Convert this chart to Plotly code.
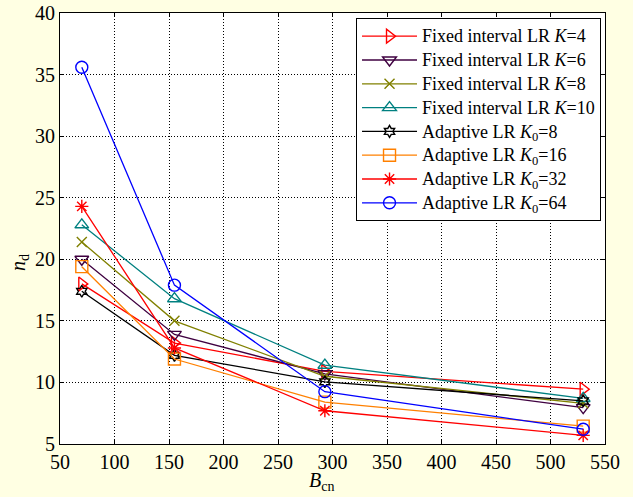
import plotly.graph_objects as go

x_vals = [70, 155, 293, 530]

fixed_k4 = [18.0, 13.2, 10.9, 9.45]
fixed_k6 = [20.0, 13.9, 10.7, 7.95]
fixed_k8 = [21.4, 15.0, 10.5, 8.3]
fixed_k10 = [22.8, 16.8, 11.4, 8.7]
adapt_k8 = [17.4, 12.2, 10.05, 8.5]
adapt_k16 = [19.4, 11.9, 8.4, 6.45]
adapt_k32 = [24.3, 12.8, 7.7, 5.7]
adapt_k64 = [35.6, 17.9, 9.25, 6.2]

names = [
    "Fixed interval LR <i>K</i>=4",
    "Fixed interval LR <i>K</i>=6",
    "Fixed interval LR <i>K</i>=8",
    "Fixed interval LR <i>K</i>=10",
    "Adaptive LR <i>K</i><sub>0</sub>=8",
    "Adaptive LR <i>K</i><sub>0</sub>=16",
    "Adaptive LR <i>K</i><sub>0</sub>=32",
    "Adaptive LR <i>K</i><sub>0</sub>=64",
]
series = [fixed_k4, fixed_k6, fixed_k8, fixed_k10, adapt_k8, adapt_k16, adapt_k32, adapt_k64]
colors = ["#FF0000", "#3F0040", "#808000", "#008080", "#000000", "#FF8000", "#FF0000", "#0000FF"]
symbols = ["triangle-right-open", "triangle-down-open", "x-thin-open", "triangle-up-open",
           "hexagram-open", "square-open", "asterisk-open", "circle-open"]
sizes = [12, 12, 10, 12, 9, 12, 11, 12]

font_family = "Liberation Serif, Times New Roman, serif"

fig = go.Figure()
for n, s, c, m, sz in zip(names, series, colors, symbols, sizes):
    fig.add_trace(go.Scatter(
        x=x_vals, y=s, mode="lines+markers",
        name='<span style="font-size:18px">' + n + "</span>",
        line=dict(color=c, width=1.3),
        marker=dict(symbol=m, size=sz, color=c, line=dict(color=c, width=1.4)),
    ))

fig.update_layout(
    width=633, height=497,
    paper_bgcolor="#FFFFE3",
    plot_bgcolor="#FFFFFF",
    margin=dict(l=60, r=28, t=13, b=53, autoexpand=False),
    font=dict(family=font_family, size=20, color="#000000"),
    showlegend=True,
    legend=dict(
        x=0.9927, xanchor="right", y=0.9877, yanchor="top",
        bgcolor="#FFFFFF", bordercolor="#000000", borderwidth=1,
        font=dict(family=font_family, size=16, color="#000000"),
        tracegroupgap=0, itemwidth=55,
    ),
    annotations=[
        dict(text="<i>B</i><sub>cn</sub>", xref="paper", yref="paper",
             x=0.48, y=0, yshift=-37, xanchor="center", yanchor="middle",
             showarrow=False, font=dict(family=font_family, size=20)),
        dict(text="<i>n</i><sub>d</sub>", xref="paper", yref="paper",
             x=0, y=0.42, xshift=-40, xanchor="center", yanchor="middle",
             textangle=-90, showarrow=False, font=dict(family=font_family, size=20)),
    ],
)
axis_common = dict(
    showline=True, linecolor="#000000", linewidth=1,
    mirror="ticks", ticks="inside", ticklen=4, tickcolor="#000000",
    showgrid=True, gridcolor="#000000", gridwidth=1, griddash="1px,2px",
    zeroline=False, automargin=False,
    tickfont=dict(family=font_family, size=20, color="#000000"),
)
fig.update_xaxes(range=[50, 550], dtick=50, tick0=50, **axis_common)
fig.update_yaxes(range=[5, 40], dtick=5, tick0=5, **axis_common)

fig.write_html(
    "out.html",
    config={"displayModeBar": False},
    post_script="document.body.style.margin='0';document.body.style.background='#FFFFE3';",
)
